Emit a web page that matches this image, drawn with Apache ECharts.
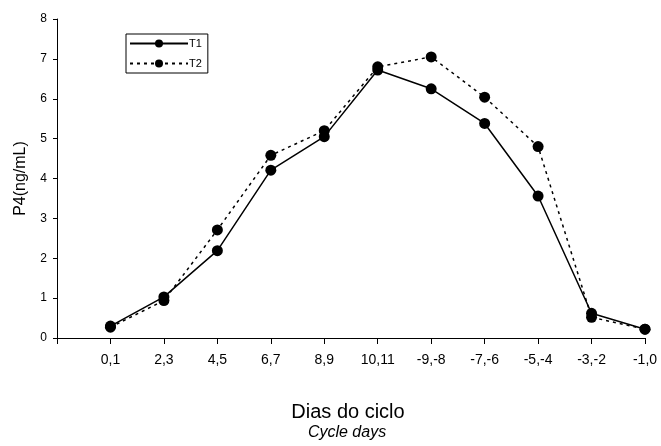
<!DOCTYPE html>
<html lang="en">
<head>
<meta charset="utf-8">
<title>P4</title>
<script src="https://cdn.jsdelivr.net/npm/echarts@6/dist/echarts.min.js"></script>
</head>
<body style="margin:0;background:#fff">
<div id="chart" style="width:661px;height:446px"></div>
<script type="text/javascript">
// cycle days (tick labels), placed at x = 1..11
let days = ['0,1', '2,3', '4,5', '6,7', '8,9', '10,11', '-9,-8', '-7,-6', '-5,-4', '-3,-2', '-1,0'];
let t1 = [0.30, 1.03, 2.19, 4.21, 5.05, 6.72, 6.25, 5.38, 3.56, 0.62, 0.22];
let t2 = [0.27, 0.94, 2.71, 4.58, 5.20, 6.80, 7.05, 6.04, 4.80, 0.52, 0.22];

let toXY = function (arr) {
    return arr.map(function (v, i) { return [i + 1, v]; });
};

let chart = echarts.init(document.getElementById('chart'));
let font = 'Liberation Sans, Arial, sans-serif';

let option = {
    animation: false,
    grid: { left: 57, right: 16, top: 19, bottom: 108 },
    legend: {
        left: 126, top: 34, orient: 'vertical',
        itemWidth: 58, itemHeight: 10, itemGap: 9,
        padding: [4, 6, 4, 3],
        borderColor: '#000', borderWidth: 1,
        textStyle: { fontFamily: font, fontSize: 11, color: '#000', padding: [0, 0, 0, -4] },
        data: ['T1', 'T2']
    },
    xAxis: {
        type: 'value', min: 0, max: 11, interval: 1,
        splitLine: { show: false },
        axisLine: { lineStyle: { color: '#000', width: 1 } },
        axisTick: { length: 6, lineStyle: { color: '#000' } },
        axisLabel: {
            margin: 15, color: '#000', fontFamily: font, fontSize: 14,
            formatter: function (v) { return days[v - 1] || ''; }
        }
    },
    yAxis: {
        type: 'value', min: 0, max: 8, interval: 1,
        name: 'P4(ng/mL)', nameLocation: 'middle', nameGap: 28,
        nameTextStyle: { fontFamily: font, fontSize: 16, color: '#000' },
        splitLine: { show: false },
        axisLine: { show: true, lineStyle: { color: '#000', width: 1 } },
        axisTick: { show: true, length: 4, lineStyle: { color: '#000' } },
        axisLabel: { margin: 10, color: '#000', fontFamily: font, fontSize: 12 }
    },
    graphic: [
        { type: 'text', x: 348, y: 412, style: { text: 'Dias do ciclo', fontFamily: font, fontSize: 20, fill: '#000', align: 'center', verticalAlign: 'middle' } },
        { type: 'text', x: 347, y: 433, style: { text: 'Cycle days', fontFamily: font, fontSize: 16, fontStyle: 'italic', fill: '#000', align: 'center', verticalAlign: 'middle' } }
    ],
    series: [
        {
            name: 'T1', type: 'line', data: toXY(t1),
            symbol: 'circle', symbolSize: 11,
            itemStyle: { color: '#000' },
            lineStyle: { color: '#000', width: 1.5, type: 'solid' }
        },
        {
            name: 'T2', type: 'line', data: toXY(t2),
            symbol: 'circle', symbolSize: 11,
            itemStyle: { color: '#000' },
            lineStyle: { color: '#000', width: 1.5, type: [3, 4] }
        }
    ]
};

chart.setOption(option);
</script>
</body>
</html>
